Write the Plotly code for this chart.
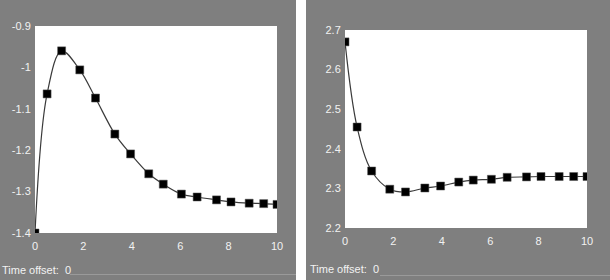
import plotly.graph_objects as go

W, H = 610, 280

# data
time_points = [0, 0.5, 1.1, 1.85, 2.5, 3.3, 3.95, 4.7, 5.3, 6.05, 6.7, 7.5, 8.1, 8.85, 9.45, 10]
left_values = [-1.400, -1.064, -0.960, -1.006, -1.074, -1.161, -1.209, -1.257, -1.282,
               -1.306, -1.313, -1.320, -1.325, -1.328, -1.329, -1.331]
right_values = [2.670, 2.455, 2.344, 2.298, 2.291, 2.301, 2.306, 2.316, 2.321,
                2.323, 2.328, 2.329, 2.330, 2.330, 2.330, 2.330]

x_tickvals = [0, 2, 4, 6, 8, 10]
x_ticktext = ["0", "2", "4", "6", "8", "10"]
left_tickvals = [-1.4, -1.3, -1.2, -1.1, -1.0, -0.9]
left_ticktext = ["-1.4", "-1.3", "-1.2", "-1.1", "-1", "-0.9"]
right_tickvals = [2.2, 2.3, 2.4, 2.5, 2.6, 2.7]
right_ticktext = ["2.2", "2.3", "2.4", "2.5", "2.6", "2.7"]
footer_text = "Time offset:  0"

GRAY = "#7f7f7f"
LABEL = "#f2f2f2"
FONT = "Liberation Sans"

def px_x(p):
    return p / W

def px_y(p):
    return 1 - p / H

fig = go.Figure()

for vals, xa, ya in [(left_values, "x", "y"), (right_values, "x2", "y2")]:
    fig.add_trace(go.Scatter(
        x=time_points, y=vals, xaxis=xa, yaxis=ya, mode="lines",
        line=dict(color="#3a3a3a", width=1.2, shape="spline", smoothing=1.0),
        hoverinfo="skip", showlegend=False))
    fig.add_trace(go.Scatter(
        x=time_points, y=vals, xaxis=xa, yaxis=ya, mode="markers",
        marker=dict(symbol="square", size=8, color="#000000",
                    line=dict(color="#555555", width=0.5)),
        showlegend=False))

shapes = [
    dict(type="rect", xref="paper", yref="paper", x0=px_x(296), x1=px_x(306), y0=0, y1=1,
         fillcolor="white", line=dict(width=0), layer="below"),
    dict(type="line", xref="paper", yref="paper", x0=px_x(70), x1=px_x(296),
         y0=px_y(274.5), y1=px_y(274.5), line=dict(color="#9a9a9a", width=1)),
    dict(type="line", xref="paper", yref="paper", x0=px_x(380), x1=1,
         y0=px_y(275.5), y1=px_y(275.5), line=dict(color="#9a9a9a", width=1)),
]

axis_common = dict(showgrid=False, zeroline=False, showline=False, automargin=False,
                   ticks="outside", tickcolor=GRAY,
                   tickfont=dict(family=FONT, size=11, color=LABEL))

fig.update_layout(
    template="none",
    width=W, height=H, margin=dict(l=0, r=0, t=0, b=0, pad=0),
    paper_bgcolor=GRAY, plot_bgcolor="white",
    shapes=shapes,
    xaxis=dict(domain=[px_x(35), px_x(277)], range=[0, 10], anchor="y",
               tickvals=x_tickvals, ticktext=x_ticktext, ticklen=3, **axis_common),
    yaxis=dict(domain=[px_y(233), px_y(26)], range=[-1.4, -0.9], anchor="x",
               tickvals=left_tickvals, ticktext=left_ticktext, ticklen=1, **axis_common),
    xaxis2=dict(domain=[px_x(345), px_x(587)], range=[0, 10], anchor="y2",
                tickvals=x_tickvals, ticktext=x_ticktext, ticklen=3, **axis_common),
    yaxis2=dict(domain=[px_y(228), px_y(30)], range=[2.2, 2.7], anchor="x2",
                tickvals=right_tickvals, ticktext=right_ticktext, ticklen=1, **axis_common),
    annotations=[
        dict(text=footer_text, xref="paper", yref="paper", x=px_x(0), y=px_y(270),
             xanchor="left", yanchor="middle", showarrow=False,
             font=dict(family=FONT, size=11, color=LABEL)),
        dict(text=footer_text, xref="paper", yref="paper", x=px_x(308), y=px_y(269),
             xanchor="left", yanchor="middle", showarrow=False,
             font=dict(family=FONT, size=11, color=LABEL)),
    ],
)

fig.write_html("out.html", config={"displayModeBar": False},
               post_script="document.body.style.margin='0';document.body.style.overflow='hidden';")
